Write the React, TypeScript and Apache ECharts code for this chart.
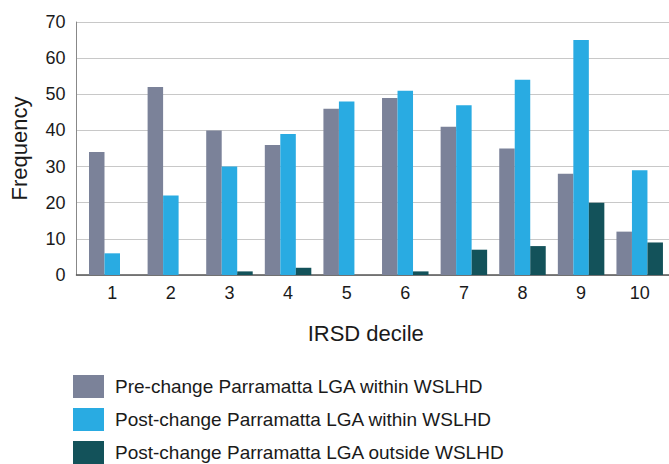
import React, { useEffect, useRef } from "react";
import * as echarts from "echarts";

const deciles = [1, 2, 3, 4, 5, 6, 7, 8, 9, 10];
const preWithin = [34, 52, 40, 36, 46, 49, 41, 35, 28, 12];
const postWithin = [6, 22, 30, 39, 48, 51, 47, 54, 65, 29];
const postOutside = [0, 0, 1, 2, 0, 1, 7, 8, 20, 9];
const seriesNames = [
  "Pre-change Parramatta LGA within WSLHD",
  "Post-change Parramatta LGA within WSLHD",
  "Post-change Parramatta LGA outside WSLHD",
];
const colors = ["#7b8299", "#29abe2", "#13525a"];
const yTicks = [0, 10, 20, 30, 40, 50, 60, 70];

export default function App() {
  const ref = useRef<HTMLDivElement>(null);
  useEffect(() => {
    if (!ref.current) return;
    const chart = echarts.init(ref.current, null, { renderer: "svg" });
    const font = "'Liberation Sans', Arial, Helvetica, sans-serif";
    const mk = (vals: number[]) => deciles.map((d, i) => [d, vals[i]]);
    chart.setOption({
      animation: false,
      textStyle: { fontFamily: font },
      grid: { left: 74, right: 0, top: 22, bottom: 189 },
      legend: {
        orient: "vertical",
        left: 73,
        top: 375,
        height: 89,
        padding: 0,
        itemWidth: 31,
        itemHeight: 23,
        itemGap: 10,
        icon: "rect",
        textStyle: { fontSize: 19, color: "#1a1a1a", fontFamily: font, padding: [0, 0, 0, 6] },
        data: seriesNames,
      },
      xAxis: {
        type: "value",
        min: 0.39,
        max: 10.5,
        name: "IRSD decile",
        nameLocation: "middle",
        nameGap: 47,
        nameTextStyle: { fontSize: 22, color: "#1a1a1a", fontFamily: font, padding: [0, 14, 0, 0] },
        axisLine: { show: true, lineStyle: { color: "#555", width: 1.5 } },
        axisTick: { show: false },
        splitLine: { show: false },
        axisLabel: {
          customValues: deciles,
          fontSize: 18,
          color: "#1a1a1a",
          margin: 9,
          fontFamily: font,
        },
      },
      yAxis: {
        type: "value",
        min: 0,
        max: 70,
        interval: 10,
        name: "Frequency",
        nameLocation: "middle",
        nameRotate: 90,
        nameGap: 46.5,
        nameTextStyle: { fontSize: 22, color: "#1a1a1a", fontFamily: font },
        axisLine: { show: true, lineStyle: { color: "#888", width: 1 } },
        axisTick: { show: false },
        axisLabel: {
          fontSize: 18,
          color: "#1a1a1a",
          margin: 11,
          fontFamily: font,
          customValues: yTicks,
        },
        splitLine: { show: true, lineStyle: { color: "#c8c8c8", width: 1 } },
      },
      series: [preWithin, postWithin, postOutside].map((vals, i) => ({
        type: "bar",
        name: seriesNames[i],
        data: mk(vals),
        barWidth: 15.5,
        barGap: "0%",
        itemStyle: { color: colors[i] },
      })),
    });
    return () => chart.dispose();
  }, []);
  return <div ref={ref} style={{ width: 669, height: 464, position: "absolute", left: 0, top: 0 }} />;
}
